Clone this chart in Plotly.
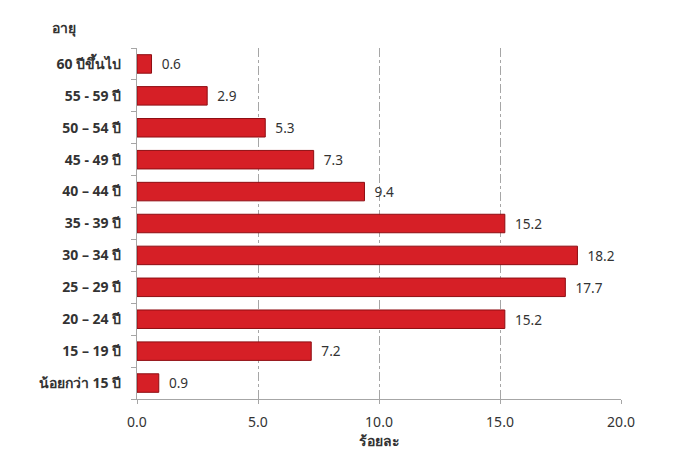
import plotly.graph_objects as go

# age groups, bottom to top
age_groups = ["น้อยกว่า 15 ปี", "15 – 19 ปี", "20 – 24 ปี", "25 – 29 ปี", "30 – 34 ปี",
              "35 - 39 ปี", "40 – 44 ปี", "45 - 49 ปี", "50 – 54 ปี", "55 - 59 ปี", "60 ปีขึ้นไป"]
percent = [0.9, 7.2, 15.2, 17.7, 18.2, 15.2, 9.4, 7.3, 5.3, 2.9, 0.6]
x_ticks = [0, 5, 10, 15, 20]

font = "Noto Sans, DejaVu Sans, sans-serif"

fig = go.Figure()
fig.add_trace(go.Bar(
    x=percent, y=age_groups, orientation="h",
    marker=dict(color="#d61f26", line=dict(color="#8e0d12", width=1)),
    text=[f"  {v:.1f}" for v in percent],
    textposition="outside",
    textfont=dict(size=14, color="#333333", family=font),
    cliponaxis=False,
))

# page has an 8px body margin, so margins are shifted to compensate
fig.update_layout(
    width=700, height=459,
    margin=dict(l=129, r=87, t=40, b=68, autoexpand=False),
    paper_bgcolor="white", plot_bgcolor="white",
    showlegend=False,
    bargap=0.42,
    font=dict(family=font, color="#333333"),
    xaxis=dict(
        range=[0, 20], tickvals=x_ticks,
        ticktext=[f"{t:.1f}" for t in x_ticks],
        tickfont=dict(size=14, color="#333333"),
        showgrid=True, gridcolor="#a6a6a6", griddash="dashdot", gridwidth=1,
        showline=True, linecolor="#a6a6a6", linewidth=1,
        ticks="outside", ticklen=4, tickcolor="#a6a6a6",
        ticklabelstandoff=6,
        zeroline=False, automargin=False,
        title=dict(text="<b>ร้อยละ</b>", font=dict(size=14, color="#333333"), standoff=2),
    ),
    yaxis=dict(
        tickfont=dict(size=14, color="#333333"),
        showline=True, linecolor="#a6a6a6", linewidth=1,
        ticks="outside", ticklen=5, tickcolor="#a6a6a6",
        tickson="boundaries", showgrid=False, automargin=False,
        ticklabelstandoff=12,
    ),
    annotations=[dict(
        text="<b>อายุ</b>", xref="paper", yref="paper",
        x=-0.18, y=1.025, xanchor="left", yanchor="bottom",
        showarrow=False, font=dict(size=14, color="#333333"),
    )],
)
fig.update_yaxes(tickprefix="<b>", ticksuffix="</b>")

fig.write_html("out.html")
